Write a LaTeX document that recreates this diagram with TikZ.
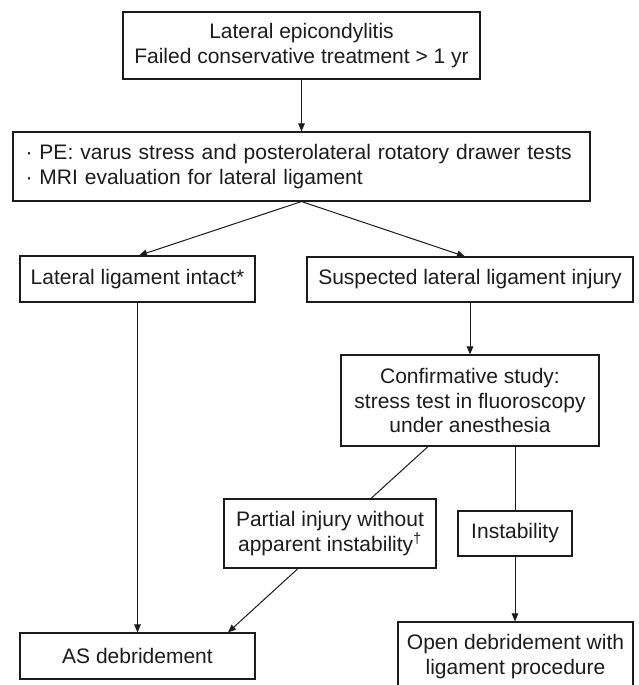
\documentclass[tikz,border=0pt]{standalone}
\usepackage{fontspec}
\setmainfont{Liberation Sans}
\usetikzlibrary{arrows.meta,calc}
\definecolor{ink}{HTML}{1C1C1C}
\begin{document}
\begin{tikzpicture}[x=1pt,y=-1pt,
  box/.style={draw=ink,line width=1.1pt,inner sep=0pt,align=center,
    font=\fontsize{21}{24.5}\selectfont,text=ink},
  conn/.style={draw=ink,line width=1pt},
  arr/.style={conn,-{Triangle[length=8pt,width=6.5pt]}}]
\useasboundingbox (0,0) rectangle (638,685);
\clip (0,0) rectangle (638,685);
\fill[white] (0,0) rectangle (638,685);
\node[box,minimum width=357pt,minimum height=67pt] (B1) at (301.5,45.5)
  {Lateral epicondylitis\\Failed conservative treatment > 1 yr};
\node[box,text width=552pt,inner xsep=12.5pt,minimum height=69pt,align=left] (B2) at (301.5,166.5)
  {· PE: varus stress and posterolateral rotatory drawer tests\\· MRI evaluation for lateral ligament};
\node[box,minimum width=235pt,minimum height=46pt] (B3) at (137.5,279)
  {Lateral ligament intact*};
\node[box,minimum width=326pt,minimum height=45pt] (B4) at (470,279.5)
  {Suspected lateral ligament injury};
\node[box,minimum width=258pt,minimum height=91pt] (B5) at (470,400.5)
  {Confirmative study:\\stress test in fluoroscopy\\under anesthesia};
\node[box,minimum width=212pt,minimum height=69pt] (B6) at (330,533.5)
  {Partial injury without\\apparent instability\textsuperscript{†}};
\node[box,minimum width=114pt,minimum height=45pt] (B7) at (515,533.5)
  {Instability};
\node[box,minimum width=235pt,minimum height=46pt] (B8) at (137.5,656)
  {AS debridement};
\node[box,minimum width=235pt,minimum height=69pt] (B9) at (515.5,656.5)
  {Open debridement with\\ligament procedure};
\draw[arr] (B1.south) -- (B2.north);
\draw[arr] (B2.south) -- ([xshift=1.5pt]B3.north);
\draw[arr] (B2.south) -- ([xshift=-5pt]B4.north);
\draw[arr] (B3.south) -- (B8.north);
\draw[arr] (B4.south) -- (B5.north);
\draw[conn] ([xshift=-42pt]B5.south) -- ([xshift=41pt]B6.north);
\draw[conn] (B7.north |- B5.south) -- (B7.north);
\draw[arr] ([xshift=-32pt]B6.south) -- ([xshift=90.5pt]B8.north);
\draw[arr] (B7.south) -- (B7.south |- B9.north);
\end{tikzpicture}
\end{document}
